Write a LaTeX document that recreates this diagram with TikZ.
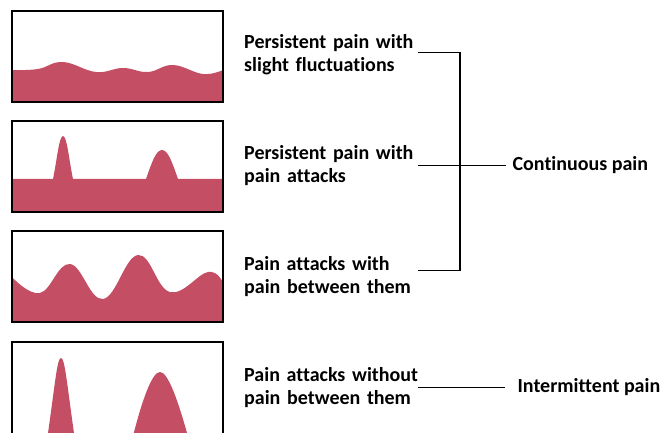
\documentclass[tikz,border=0pt]{standalone}
\usepackage{fontspec}
\setmainfont{Carlito}[Ligatures=NoCommon]
\usetikzlibrary{positioning}
\definecolor{painred}{RGB}{196,78,100}

\begin{document}
\begin{tikzpicture}[x=1pt,y=-1pt]
			\tikzstyle{panel} = [draw, line width=1.6pt, %no fill, the waves go first
				minimum width=211pt, minimum height=91pt, inner sep=0pt]
			\tikzstyle{wave} = [fill=painred]
			\tikzstyle{caption} = [text width=174pt, inner sep=0pt, align=left,
				font=\fontsize{20}{23}\selectfont\bfseries]
			\tikzstyle{kind} = [inner xsep=6pt, inner ysep=0pt,
				font=\fontsize{20}{23}\selectfont\bfseries]
			\tikzstyle{line} = [draw, line width=1.3pt]

			\useasboundingbox (0,0) rectangle (662,433);

			% the pain curves
			\path[wave] plot[smooth, tension=0.7] coordinates {(12,70) (38,69) (63,62) (96,72) (123,68) (148,72) (173,65) (203,74) (223,70)}
				-- (223,102) -- (12,102) -- cycle;
			\path[wave] (12,179) -- (53,179) .. controls (57,160) and (59,136) .. (63,136) .. controls (67,136) and (69,160) .. (73,179)
				-- (146,179) .. controls (152,162) and (156,150) .. (162,150) .. controls (168,150) and (172,162) .. (178,179)
				-- (223,179) -- (223,212) -- (12,212) -- cycle;
			\path[wave] plot[smooth, tension=0.7] coordinates {(12,277) (40,293) (70,264) (103,299) (138,255) (170,292) (208,272) (223,283)}
				-- (223,321) -- (12,321) -- cycle;
			\path[wave] (47,440) .. controls (55,385) and (57,358) .. (61,358) .. controls (65,358) and (67,385) .. (75,440) -- cycle;
			\path[wave] (132,440) .. controls (142,400) and (152,372) .. (160,372) .. controls (168,372) and (178,400) .. (189,440) -- cycle;

			\node(PanelSteady)[panel] at (117.5,56.5) {};
			\tikzset{node distance = 17.4pt}
			\node(PanelPeaks)[panel, below = of PanelSteady] {};
			\node(PanelWaves)[panel, below = of PanelPeaks] {};
			\node(PanelBursts)[panel, minimum height=110pt, below = 18.4pt of PanelWaves] {};

			\node(TextSteady)[caption, anchor=west] at (244,54.5) {Persistent pain with\\slight fluctuations};
			\tikzset{node distance = 111pt}
			\node(TextPeaks)[caption, below of = TextSteady] {Persistent pain with\\pain attacks};
			\node(TextWaves)[caption, below of = TextPeaks] {Pain attacks with\\pain between them};
			\node(TextBursts)[caption, below of = TextWaves] {Pain attacks without\\pain between them};

			\node(Continuous)[kind, right = 88pt of TextPeaks] {Continuous pain};
			\node(Intermittent)[kind, inner xsep=12pt, right = 87pt of TextBursts] {Intermittent pain};

			\coordinate (Bracket) at (460,166);
			\draw[line] ([yshift=2pt]TextSteady.east) -| (Bracket) |- ([yshift=6pt]TextWaves.east);
			\draw[line] (TextPeaks.east) -- (Continuous.west);
			\draw[line] (TextBursts.east) -- (Intermittent.west);
		\end{tikzpicture}
\end{document}
